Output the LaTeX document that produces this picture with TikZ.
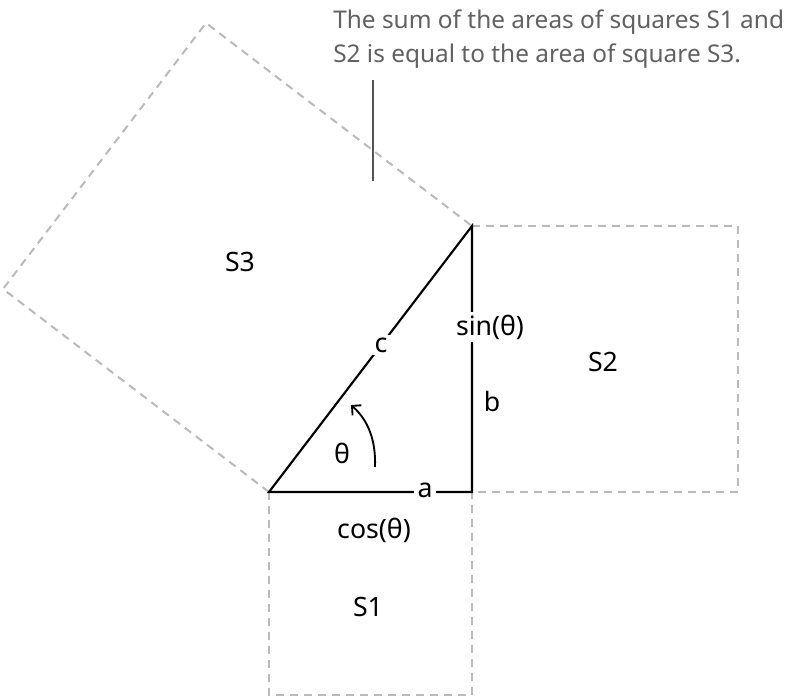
\documentclass[tikz,border=0pt]{standalone}
\usepackage{fontspec}
\setmainfont{Noto Sans}
\usetikzlibrary{arrows.meta}
\begin{document}
\begin{tikzpicture}[x=0.75pt,y=-0.75pt,
  sq/.style={draw=black!27,line width=1.5pt,dash pattern=on 6pt off 4.5pt},
  tri/.style={draw=black,line width=1.6pt},
  lbl/.style={font=\fontsize{20}{24}\selectfont,inner sep=1pt},
  wlbl/.style={lbl,fill=white,inner xsep=3pt,inner ysep=2pt},
  captext/.style={font=\fontsize{18.3}{22}\selectfont,text=black!62,inner sep=0pt,anchor=base west},
  lead/.style={draw=black!67,line width=1.5pt}]
\useasboundingbox (0,0) rectangle (786,696);
\coordinate (A) at (269,492);
\coordinate (B) at (472,492);
\coordinate (C) at (472,226);
\coordinate (D) at (206,23);
\coordinate (E) at (3,289);
\coordinate (F) at (738,226);
\coordinate (G) at (738,492);
\coordinate (H) at (269,695);
\coordinate (I) at (472,695);
% squares
\draw[sq] (A) -- (E) -- (D) -- (C);
\draw[sq] (C) -- (F) -- (G) -- (B);
\draw[sq] (A) -- (H) -- (I) -- (B);
% triangle
\draw[tri] (A) -- (B) -- (C) -- cycle;
% labels on sides
\node[wlbl] (lc) at (381,345) {c};
\node[wlbl] (ls) at (490,327) {sin(θ)};
\node[wlbl] (la) at (425,490) {a};
\node[lbl] (lb) at (492,401) {b};
\node[lbl] (lcos) at (374,530) {cos(θ)};
\node[lbl] (lt) at (342,453) {θ};
\node[lbl] (s1) at (368,607) {S1};
\node[lbl] (s2) at (603,362) {S2};
\node[lbl] (s3) at (240,262) {S3};
% angle arrow
\coordinate (r0) at (375,467);
\coordinate (r1) at (351,405);
\draw[line width=1.4pt,-{Straight Barb[length=5pt,width=10pt]}] (r0) .. controls (376,440) and (368,420) .. (r1);
% callout
\node[captext] (t1) at (333,28) {The sum of the areas of squares S1 and};
\node[captext] (t2) at (333,62) {S2 is equal to the area of square S3.};
\coordinate (p0) at (373,80);
\coordinate (p1) at (373,181);
\draw[lead] (p0) -- (p1);
\end{tikzpicture}
\end{document}
